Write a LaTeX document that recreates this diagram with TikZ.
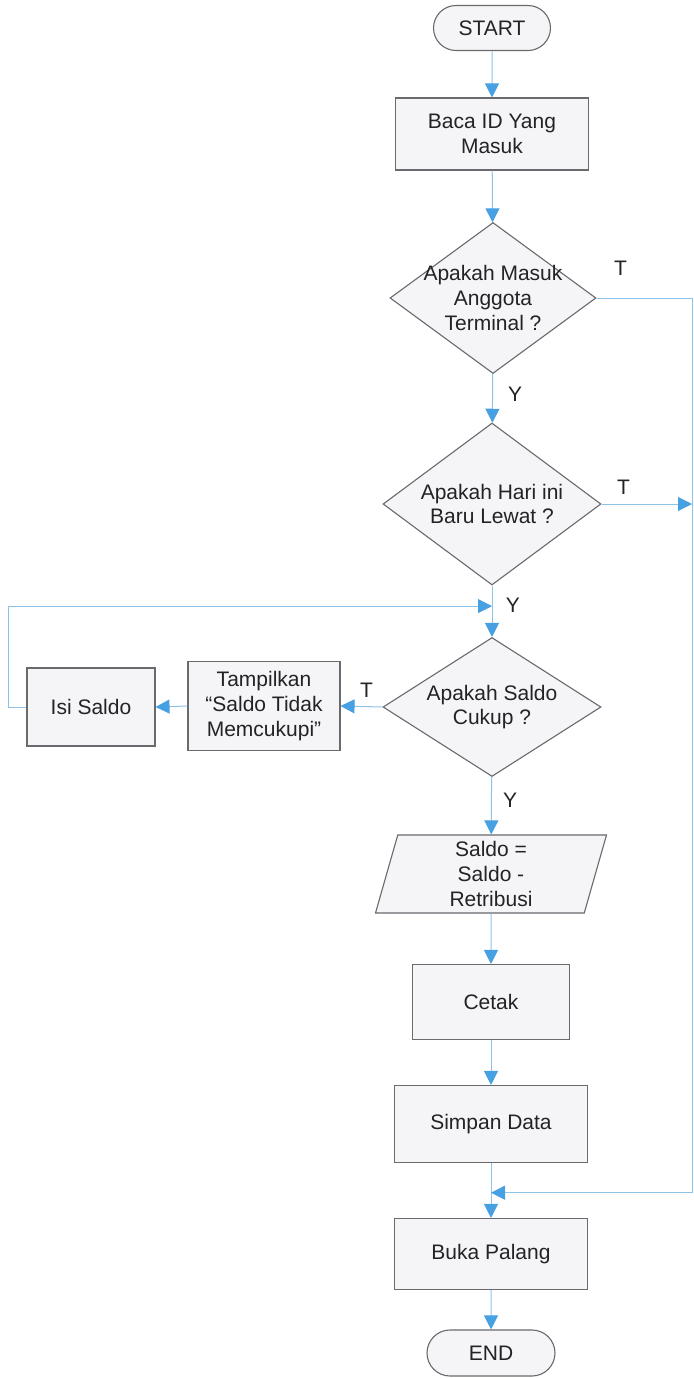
\documentclass[tikz,border=0pt]{standalone}
\usepackage{fontspec}
\setmainfont{Liberation Sans}
\usetikzlibrary{
    arrows.meta,
    calc,
    positioning,
    shapes.geometric,
    shapes.misc
}
\definecolor{ink}{RGB}{35,35,38}
\definecolor{edge}{RGB}{105,105,110}
\definecolor{boxfill}{RGB}{245,245,248}
\definecolor{wire}{RGB}{140,195,235}
\definecolor{tip}{RGB}{70,160,225}
\tikzset{
    line cap=round,
    line join=round,
    base box/.style={
        draw=edge,
        line width=0.55pt,
        fill=boxfill,
        text=ink,
        align=center,
        inner sep=1pt,
        font=\fontsize{10.5}{12.3}\selectfont
    },
    terminator/.style={
        base box,
        rounded rectangle,
        minimum width=60.5pt,
        minimum height=22.5pt
    },
    process/.style={
        base box,
        rectangle,
        minimum width=96.5pt,
        minimum height=36pt
    },
    decision/.style={
        base box,
        diamond,
        inner sep=0pt
    },
    io/.style={
        base box,
        trapezium,
        trapezium left angle=71,
        trapezium right angle=109,
        trapezium stretches body,
        minimum width=115.5pt,
        minimum height=39pt,
        inner sep=0pt
    },
    flow/.style={
        draw=wire,
        line width=0.5pt,
        -{Triangle[length=7pt,width=7pt,color=tip]}
    },
    annot/.style={
        text=ink,
        inner sep=1pt,
        font=\fontsize{10.5}{12.3}\selectfont
    }
}

\begin{document}
\begin{tikzpicture}[x=0.5pt, y=-0.5pt]

\useasboundingbox (0,0) rectangle (694,1378);

% Main column
\node[terminator] (start) at (492,28) {START};
\node[process] (baca) at (492,134) {Baca ID Yang\\Masuk};
\node[decision, aspect=1.364, minimum width=103pt, minimum height=75.5pt, inner sep=-3pt] (q1) at (493,298) {Apakah Masuk\\Anggota\\Terminal ?};
\node[decision, aspect=1.346, minimum width=109pt, minimum height=81pt] (q2) at (492,504) {Apakah Hari ini\\Baru Lewat ?};
\node[decision, aspect=1.568, minimum width=109pt, minimum height=69.5pt] (q3) at (492,707) {Apakah Saldo\\Cukup ?};
\node[io] (hitung) at (491,874) {Saldo =\\Saldo -\\Retribusi};
\node[process, minimum width=78.5pt, minimum height=37.5pt] (cetak) at (491,1002) {Cetak};
\node[process, minimum height=38.5pt] (simpan) at (491,1124) {Simpan Data};
\node[process, minimum height=35.5pt] (buka) at (491,1254) {Buka Palang};
\node[terminator, minimum width=66pt, minimum height=23pt] (end) at (491,1353) {END};

% Side branch
\node[process, minimum width=76pt, minimum height=44.5pt] (tampil) at (264,706) {Tampilkan\\“Saldo Tidak\\Memcukupi”};
\node[process, minimum width=64pt, minimum height=39pt] (isi) at (91,707) {Isi Saldo};

% Helper points
\coordinate (rail) at (692,0);
\coordinate (loop) at (8,0);
\coordinate (merge) at ($(q2.south)!0.4!(q3.north)$);
\coordinate (join) at ($(simpan.south)!0.54!(buka.north)$);

% Connectors
\draw[flow] (start) -- (baca);
\draw[flow] (baca) -- (q1);
\draw[flow] (q1) -- (q2);
\draw[flow] (q2.south) -- (q3.north);
\draw[flow] (q3) -- (hitung);
\draw[flow] (hitung) -- (cetak);
\draw[flow] (cetak) -- (simpan);
\draw[flow] (simpan) -- (buka);
\draw[flow] (buka) -- (end);

\draw[flow] (q1.east) -| (join -| rail) -- (join);
\draw[flow] (q2.east) -- (q2.east -| rail);
\draw[flow] (q3.west) -- (tampil.east);
\draw[flow] (tampil.west) -- (isi.east);
\draw[flow] (isi.west) -- (isi.west -| loop) |- (merge);

% Branch labels
\node[annot] (t1) at ([xshift=12pt, yshift=15pt]q1.east) {T};
\node[annot] (y1) at ([xshift=11pt, yshift=-10pt]q1.south) {Y};
\node[annot] (t2) at ([xshift=11pt, yshift=8.5pt]q2.east) {T};
\node[annot] (y2) at ([xshift=10.5pt, yshift=-10pt]q2.south) {Y};
\node[annot] (t3) at ([xshift=-8pt, yshift=8.5pt]q3.west) {T};
\node[annot] (y3) at ([xshift=9pt, yshift=-11.5pt]q3.south) {Y};

\end{tikzpicture}
\end{document}
